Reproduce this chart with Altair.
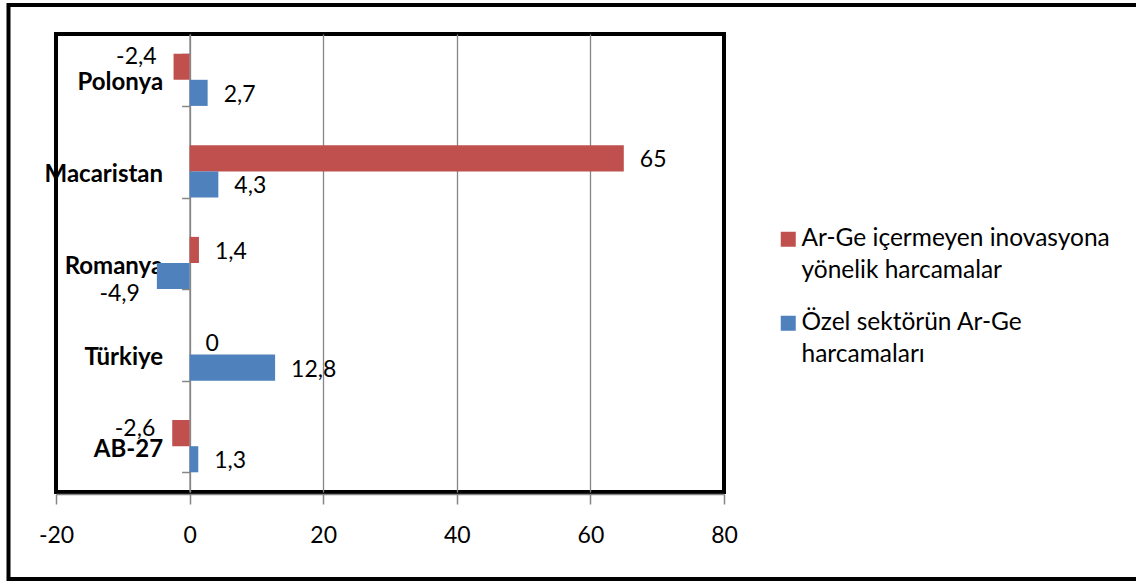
import altair as alt
import pandas as pd

# Countries, top to bottom
countries = ["Polonya", "Macaristan", "Romanya", "Türkiye", "AB-27"]

# Series names (legend order) and their colours
series = [
    "Ar-Ge içermeyen inovasyona yönelik harcamalar",
    "Özel sektörün Ar-Ge harcamaları",
]
series_colors = ["#C0504D", "#4F81BD"]

# Values per country for each series
non_rd_innovation = [-2.4, 65, 1.4, 0, -2.6]
private_rd = [2.7, 4.3, -4.9, 12.8, 1.3]

# Axis ticks
x_ticks = [-20, 0, 20, 40, 60, 80]

rows = []
for c, a, b in zip(countries, non_rd_innovation, private_rd):
    rows.append({"ulke": c, "seri": series[0], "deger": a})
    rows.append({"ulke": c, "seri": series[1], "deger": b})
df = pd.DataFrame(rows)
df["etiket"] = df["deger"].map(lambda v: f"{v:g}".replace(".", ","))

# Vertical nudges (px) for the labels of negative bars
neg_label_dy = {
    ("Polonya", series[0]): -10,
    ("Romanya", series[1]): 18,
    ("AB-27", series[0]): -4,
}

PLOT_W, PLOT_H = 668, 458
GRID = "#868686"
FONT = "Lato"
VAL_SIZE = 23

x_enc = alt.X(
    "deger:Q",
    scale=alt.Scale(domain=[-20, 80], nice=False, zero=False),
    axis=alt.Axis(
        values=x_ticks,
        title=None,
        grid=True,
        gridColor=GRID,
        gridWidth=1.3,
        gridOpacity=alt.condition("datum.value == -20 || datum.value == 80",
                                  alt.value(0), alt.value(1)),
        domainColor=GRID,
        domainWidth=1.5,
        tickColor=GRID,
        tickWidth=1.5,
        tickSize=10,
        offset=2,
        labelFont=FONT,
        labelFontSize=VAL_SIZE,
        labelColor="black",
        labelPadding=20,
        labelFlush=False,
        labelExpr="'' + datum.value",
    ),
)

y_enc = alt.Y(
    "ulke:N",
    sort=countries,
    scale=alt.Scale(paddingInner=0.43, paddingOuter=0.215),
    axis=alt.Axis(
        title=None,
        offset=-PLOT_W * 20 / 100,
        grid=False,
        tickBand="extent",
        domainColor=GRID,
        domainWidth=1.5,
        tickColor=GRID,
        tickWidth=1.5,
        tickSize=8,
        labelFont=FONT,
        labelFontSize=24,
        labelFontWeight="bold",
        labelColor="black",
        labelPadding=19,
        labelOffset=3,
    ),
)

yoff_enc = alt.YOffset("seri:N", sort=series)

color_enc = alt.Color(
    "seri:N",
    sort=series,
    scale=alt.Scale(domain=series, range=series_colors),
    legend=alt.Legend(
        title=None,
        orient="none",
        legendX=720,
        legendY=193,
        padding=0,
        symbolType="square",
        symbolSize=225,
        symbolStrokeWidth=0,
        labelFont=FONT,
        labelFontSize=24.5,
        labelColor="black",
        labelOffset=1,
        labelLimit=0,
        rowPadding=27,
        labelExpr=(
            "datum.label == '" + series[0] + "' ? "
            "['Ar-Ge içermeyen inovasyona', 'yönelik harcamalar'] : "
            "['Özel sektörün Ar-Ge', 'harcamaları']"
        ),
    ),
)

base = alt.Chart(df)

bars = base.mark_bar().encode(x=x_enc, y=y_enc, yOffset=yoff_enc, color=color_enc)

pos_labels = (
    base.transform_filter("datum.deger >= 0")
    .mark_text(align="left", baseline="middle", dx=16, dy=2, font=FONT, fontSize=VAL_SIZE, color="black")
    .encode(x="deger:Q", y=alt.Y("ulke:N", sort=countries), yOffset=yoff_enc, text="etiket:N")
)

layers = [bars, pos_labels]
for (c, s), dy in neg_label_dy.items():
    layers.append(
        base.transform_filter(
            (alt.datum.ulke == c) & (alt.datum.seri == s)
        )
        .mark_text(align="right", baseline="middle", dx=-17, dy=dy, font=FONT, fontSize=VAL_SIZE, color="black")
        .encode(x="deger:Q", y=alt.Y("ulke:N", sort=countries), yOffset=yoff_enc, text="etiket:N")
    )

# Outer frame around the whole figure
frame = (
    alt.Chart(pd.DataFrame({"k": [0]}))
    .mark_rect(fillOpacity=0, stroke="black", strokeWidth=4)
    .encode(x=alt.value(-47.5), x2=alt.value(1095), y=alt.value(-29), y2=alt.value(545))
)
layers.append(frame)

chart = (
    alt.layer(*layers)
    .properties(
        width=PLOT_W,
        height=PLOT_H,
        autosize=alt.AutoSizeParams(type="none"),
        padding={"left": 56, "top": 34, "right": 1136 - 56 - PLOT_W, "bottom": 583 - 34 - PLOT_H},
        background="white",
    )
    .configure(style={"guide-label": {"lineHeight": 32}})
    .configure_view(stroke="black", strokeWidth=4)
)

chart.save("out.html", embed_options={"renderer": "svg", "actions": False})
